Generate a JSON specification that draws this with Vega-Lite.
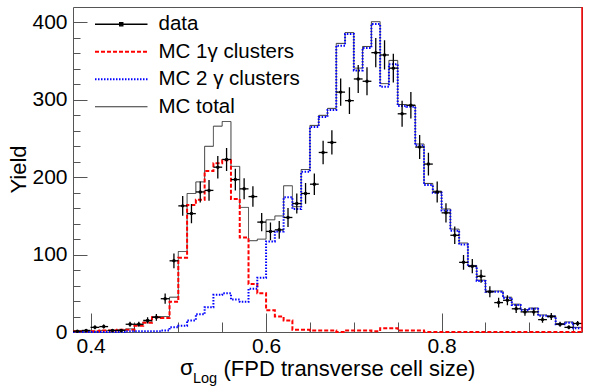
{
  "$schema": "https://vega.github.io/schema/vega-lite/v6.json",
  "width": 509,
  "height": 325,
  "autosize": {"type": "none"},
  "padding": {"left": 73, "top": 7, "right": 18, "bottom": 59},
  "background": "white",
  "config": {
    "view": {"stroke": "#555555", "strokeWidth": 1},
    "axis": {"domain": false, "grid": false, "tickColor": "#555555", "tickWidth": 1, "labelFont": "Liberation Sans", "titleFont": "Liberation Sans", "labelColor": "black", "titleColor": "black", "titleFontWeight": "normal"}
  },
  "datasets": {
    "hist": [
      {"x":0.38,"t":1,"r":1,"b":0},{"x":0.39,"t":1,"r":1,"b":0},{"x":0.40,"t":1,"r":1,"b":0},{"x":0.41,"t":2,"r":2,"b":0},
      {"x":0.42,"t":2,"r":2,"b":0},{"x":0.43,"t":3,"r":3,"b":0},{"x":0.44,"t":4,"r":3,"b":1},{"x":0.45,"t":9,"r":8,"b":1},
      {"x":0.46,"t":13,"r":12,"b":1},{"x":0.47,"t":20,"r":19,"b":1},{"x":0.48,"t":20,"r":18,"b":2},{"x":0.49,"t":45,"r":39,"b":6},
      {"x":0.50,"t":104,"r":96,"b":8},{"x":0.51,"t":179,"r":164,"b":15},{"x":0.52,"t":194,"r":171,"b":23},{"x":0.53,"t":240,"r":208,"b":32},
      {"x":0.54,"t":266,"r":218,"b":48},{"x":0.55,"t":272,"r":222,"b":50},{"x":0.56,"t":214,"r":172,"b":42},{"x":0.57,"t":161,"r":122,"b":39},
      {"x":0.58,"t":118,"r":62,"b":56},{"x":0.59,"t":120,"r":50,"b":70},{"x":0.60,"t":145,"r":28,"b":117},{"x":0.61,"t":150,"r":20,"b":130},
      {"x":0.62,"t":189,"r":15,"b":174},{"x":0.63,"t":162,"r":3,"b":159},{"x":0.64,"t":210,"r":3,"b":207},{"x":0.65,"t":267,"r":2,"b":265},
      {"x":0.66,"t":280,"r":2,"b":278},{"x":0.67,"t":289,"r":2,"b":287},{"x":0.68,"t":373,"r":0,"b":370},{"x":0.69,"t":387,"r":2,"b":385},
      {"x":0.70,"t":341,"r":2,"b":338},{"x":0.71,"t":369,"r":2,"b":367},{"x":0.72,"t":401,"r":1,"b":398},{"x":0.73,"t":321,"r":5,"b":317},
      {"x":0.74,"t":351,"r":5,"b":346},{"x":0.75,"t":294,"r":2,"b":292},{"x":0.76,"t":293,"r":2,"b":291},{"x":0.77,"t":243,"r":2,"b":241},
      {"x":0.78,"t":192,"r":0,"b":190},{"x":0.79,"t":182,"r":0,"b":180},{"x":0.80,"t":159,"r":0,"b":157},{"x":0.81,"t":133,"r":0,"b":131},
      {"x":0.82,"t":115,"r":0,"b":113},{"x":0.83,"t":86,"r":0,"b":85},{"x":0.84,"t":67,"r":0,"b":66},{"x":0.85,"t":53,"r":0,"b":52},
      {"x":0.86,"t":53,"r":0,"b":52},{"x":0.87,"t":45,"r":0,"b":44},{"x":0.88,"t":36,"r":0,"b":35},{"x":0.89,"t":29,"r":0,"b":28},
      {"x":0.90,"t":31,"r":0,"b":30},{"x":0.91,"t":22,"r":0,"b":21},{"x":0.92,"t":21,"r":0,"b":20},{"x":0.93,"t":11,"r":0,"b":10},
      {"x":0.94,"t":13,"r":0,"b":12},{"x":0.95,"t":6,"r":0,"b":5},{"x":0.96,"t":6,"r":0,"b":5}
    ],
    "pts": [
      {"c":0.385,"e1":0.38,"e2":0.39,"n":1,"lo":0,"hi":2},
      {"c":0.395,"e1":0.39,"e2":0.40,"n":2,"lo":0.6,"hi":3.4},
      {"c":0.405,"e1":0.40,"e2":0.41,"n":6,"lo":3.6,"hi":8.4},
      {"c":0.415,"e1":0.41,"e2":0.42,"n":7,"lo":4.4,"hi":9.6},
      {"c":0.425,"e1":0.42,"e2":0.43,"n":2,"lo":0.6,"hi":3.4},
      {"c":0.435,"e1":0.43,"e2":0.44,"n":2,"lo":0.6,"hi":3.4},
      {"c":0.445,"e1":0.44,"e2":0.45,"n":10,"lo":6.8,"hi":13.2},
      {"c":0.455,"e1":0.45,"e2":0.46,"n":10,"lo":6.8,"hi":13.2},
      {"c":0.465,"e1":0.46,"e2":0.47,"n":15,"lo":11.1,"hi":18.9},
      {"c":0.475,"e1":0.47,"e2":0.48,"n":19,"lo":14.6,"hi":23.4},
      {"c":0.485,"e1":0.48,"e2":0.49,"n":43,"lo":36.4,"hi":49.6},
      {"c":0.495,"e1":0.49,"e2":0.50,"n":92,"lo":82.4,"hi":101.6},
      {"c":0.505,"e1":0.50,"e2":0.51,"n":163,"lo":150.2,"hi":175.8},
      {"c":0.515,"e1":0.51,"e2":0.52,"n":153,"lo":140.6,"hi":165.4},
      {"c":0.525,"e1":0.52,"e2":0.53,"n":181,"lo":167.5,"hi":194.5},
      {"c":0.535,"e1":0.53,"e2":0.54,"n":183,"lo":169.5,"hi":196.5},
      {"c":0.545,"e1":0.54,"e2":0.55,"n":213,"lo":198.4,"hi":227.6},
      {"c":0.555,"e1":0.55,"e2":0.56,"n":223,"lo":208.1,"hi":237.9},
      {"c":0.565,"e1":0.56,"e2":0.57,"n":197,"lo":183,"hi":211},
      {"c":0.575,"e1":0.57,"e2":0.58,"n":185,"lo":171.4,"hi":198.6},
      {"c":0.585,"e1":0.58,"e2":0.59,"n":175,"lo":161.8,"hi":188.2},
      {"c":0.595,"e1":0.59,"e2":0.60,"n":142,"lo":130.1,"hi":153.9},
      {"c":0.605,"e1":0.60,"e2":0.61,"n":130,"lo":118.6,"hi":141.4},
      {"c":0.615,"e1":0.61,"e2":0.62,"n":132,"lo":120.5,"hi":143.5},
      {"c":0.625,"e1":0.62,"e2":0.63,"n":148,"lo":135.8,"hi":160.2},
      {"c":0.635,"e1":0.63,"e2":0.64,"n":166,"lo":153.1,"hi":178.9},
      {"c":0.645,"e1":0.64,"e2":0.65,"n":179,"lo":165.6,"hi":192.4},
      {"c":0.655,"e1":0.65,"e2":0.66,"n":191,"lo":177.2,"hi":204.8},
      {"c":0.665,"e1":0.66,"e2":0.67,"n":232,"lo":216.8,"hi":247.2},
      {"c":0.675,"e1":0.67,"e2":0.68,"n":245,"lo":229.3,"hi":260.7},
      {"c":0.685,"e1":0.68,"e2":0.69,"n":310,"lo":292.4,"hi":327.6},
      {"c":0.695,"e1":0.69,"e2":0.70,"n":299,"lo":281.7,"hi":316.3},
      {"c":0.705,"e1":0.70,"e2":0.71,"n":327,"lo":308.9,"hi":345.1},
      {"c":0.715,"e1":0.71,"e2":0.72,"n":324,"lo":306,"hi":342},
      {"c":0.725,"e1":0.72,"e2":0.73,"n":361,"lo":342,"hi":380},
      {"c":0.735,"e1":0.73,"e2":0.74,"n":358,"lo":339.1,"hi":376.9},
      {"c":0.745,"e1":0.74,"e2":0.75,"n":341,"lo":322.5,"hi":359.5},
      {"c":0.755,"e1":0.75,"e2":0.76,"n":282,"lo":265.2,"hi":298.8},
      {"c":0.765,"e1":0.76,"e2":0.77,"n":293,"lo":275.9,"hi":310.1},
      {"c":0.775,"e1":0.77,"e2":0.78,"n":239,"lo":223.5,"hi":254.5},
      {"c":0.785,"e1":0.78,"e2":0.79,"n":217,"lo":202.3,"hi":231.7},
      {"c":0.795,"e1":0.79,"e2":0.80,"n":181,"lo":167.5,"hi":194.5},
      {"c":0.805,"e1":0.80,"e2":0.81,"n":154,"lo":141.6,"hi":166.4},
      {"c":0.815,"e1":0.81,"e2":0.82,"n":125,"lo":113.8,"hi":136.2},
      {"c":0.825,"e1":0.82,"e2":0.83,"n":90,"lo":80.5,"hi":99.5},
      {"c":0.835,"e1":0.83,"e2":0.84,"n":85,"lo":75.8,"hi":94.2},
      {"c":0.845,"e1":0.84,"e2":0.85,"n":72,"lo":63.5,"hi":80.5},
      {"c":0.855,"e1":0.85,"e2":0.86,"n":52,"lo":44.8,"hi":59.2},
      {"c":0.865,"e1":0.86,"e2":0.87,"n":38,"lo":31.8,"hi":44.2},
      {"c":0.875,"e1":0.87,"e2":0.88,"n":41,"lo":34.6,"hi":47.4},
      {"c":0.885,"e1":0.88,"e2":0.89,"n":30,"lo":24.5,"hi":35.5},
      {"c":0.895,"e1":0.89,"e2":0.90,"n":26,"lo":20.9,"hi":31.1},
      {"c":0.905,"e1":0.90,"e2":0.91,"n":26,"lo":20.9,"hi":31.1},
      {"c":0.915,"e1":0.91,"e2":0.92,"n":16,"lo":12,"hi":20},
      {"c":0.925,"e1":0.92,"e2":0.93,"n":20,"lo":15.5,"hi":24.5},
      {"c":0.935,"e1":0.93,"e2":0.94,"n":10,"lo":6.8,"hi":13.2},
      {"c":0.945,"e1":0.94,"e2":0.95,"n":6,"lo":3.6,"hi":8.4},
      {"c":0.955,"e1":0.95,"e2":0.96,"n":11,"lo":7.7,"hi":14.3}
    ]
  },
  "resolve": {"axis": {"x": "independent", "y": "independent"}},
  "layer": [
    {
      "data": {"name": "hist"},
      "mark": {"type": "line", "interpolate": "step-after", "strokeWidth": 1},
      "encoding": {
        "x": {"field": "x", "type": "quantitative", "scale": {"domain": [0.38, 0.96], "nice": false, "zero": false},
              "axis": {"orient": "bottom", "values": [0.4, 0.6, 0.8], "format": ".1f", "ticks": false, "labelFontSize": 21, "labelBaseline": "alphabetic", "labelPadding": 20,
                       "title": "(FPD transverse cell size)", "titleFontSize": 22, "titleBaseline": "alphabetic", "titleAlign": "left", "titleAnchor": "start", "titleX": 150, "titleY": 43}},
        "y": {"field": "t", "type": "quantitative", "scale": {"domain": [0, 420], "nice": false, "zero": true},
              "axis": {"orient": "left", "values": [0, 100, 200, 300, 400], "ticks": false, "labelFontSize": 21, "labelPadding": 6,
                       "title": "Yield", "titleFontSize": 22, "titleBaseline": "alphabetic", "titleAngle": -90, "titleX": -48, "titleY": 162}},
        "color": {"datum": "MC total", "type": "nominal",
                  "scale": {"domain": ["data", "MC 1γ clusters", "MC 2 γ clusters", "MC total"], "range": ["#000000", "#ff0000", "#0000ff", "#333333"]},
                  "legend": {"title": null, "orient": "none", "legendX": 38, "legendY": 7, "padding": 0, "symbolSize": 441, "labelFontSize": 20.5, "labelFont": "Liberation Sans", "labelColor": "black", "labelOffset": 27, "rowPadding": 6.5, "labelLimit": 300,
                             "encode": {"symbols": {"update": {
                               "shape": {"signal": "datum.value === 'data' ? 'M-2.5,0H2.5M-0.15,-0.15H0.15V0.15H-0.15Z' : 'M-2.5,0H2.5'"},
                               "fill": {"signal": "datum.value === 'data' ? 'black' : 'transparent'"},
                               "strokeWidth": {"signal": "datum.value === 'MC total' ? 1 : datum.value === 'data' ? 1.3 : 2"}}}}}},
        "strokeDash": {"datum": "MC total", "type": "nominal",
                       "scale": {"domain": ["data", "MC 1γ clusters", "MC 2 γ clusters", "MC total"], "range": [[1, 0], [4, 2], [1.5, 1.5], [1, 0]]}}
      }
    },
    {
      "data": {"name": "hist"},
      "mark": {"type": "line", "interpolate": "step-after", "strokeWidth": 2},
      "encoding": {
        "x": {"field": "x", "type": "quantitative", "scale": {"domain": [0.38, 0.96], "nice": false, "zero": false},
              "axis": {"orient": "bottom", "values": [0.4, 0.6, 0.8], "labels": false, "tickSize": -19, "title": null}},
        "y": {"field": "r", "type": "quantitative", "scale": {"domain": [0, 420], "nice": false, "zero": true},
              "axis": {"orient": "left", "values": [0, 100, 200, 300, 400], "labels": false, "tickSize": -14, "title": null}},
        "color": {"datum": "MC 1γ clusters", "type": "nominal"},
        "strokeDash": {"datum": "MC 1γ clusters", "type": "nominal"}
      }
    },
    {
      "data": {"name": "hist"},
      "mark": {"type": "line", "interpolate": "step-after", "strokeWidth": 2},
      "encoding": {
        "x": {"field": "x", "type": "quantitative", "scale": {"domain": [0.38, 0.96], "nice": false, "zero": false},
              "axis": {"orient": "bottom", "values": [0.4, 0.45, 0.5, 0.55, 0.6, 0.65, 0.7, 0.75, 0.8, 0.85, 0.9, 0.95], "labels": false, "tickSize": -10, "title": null}},
        "y": {"field": "b", "type": "quantitative", "scale": {"domain": [0, 420], "nice": false, "zero": true},
              "axis": {"orient": "left", "values": [0, 20, 40, 60, 80, 100, 120, 140, 160, 180, 200, 220, 240, 260, 280, 300, 320, 340, 360, 380, 400], "labels": false, "tickSize": -7, "title": null}},
        "color": {"datum": "MC 2 γ clusters", "type": "nominal"},
        "strokeDash": {"datum": "MC 2 γ clusters", "type": "nominal"}
      }
    },
    {
      "data": {"name": "pts"},
      "mark": {"type": "rule", "strokeWidth": 1.3},
      "encoding": {
        "x": {"field": "c", "type": "quantitative", "scale": {"domain": [0.38, 0.96], "nice": false, "zero": false}, "axis": null},
        "y": {"field": "lo", "type": "quantitative", "scale": {"domain": [0, 420], "nice": false, "zero": true}, "axis": null},
        "y2": {"field": "hi"},
        "color": {"datum": "data", "type": "nominal"},
        "strokeDash": {"datum": "data", "type": "nominal"}
      }
    },
    {
      "data": {"name": "pts"},
      "mark": {"type": "rule", "color": "black", "strokeWidth": 1.3},
      "encoding": {
        "x": {"field": "e1", "type": "quantitative", "scale": {"domain": [0.38, 0.96], "nice": false, "zero": false}, "axis": null},
        "x2": {"field": "e2"},
        "y": {"field": "n", "type": "quantitative", "scale": {"domain": [0, 420], "nice": false, "zero": true}, "axis": null}
      }
    },
    {
      "data": {"name": "pts"},
      "mark": {"type": "point", "filled": true, "color": "black", "size": 12, "opacity": 1},
      "encoding": {
        "x": {"field": "c", "type": "quantitative", "scale": {"domain": [0.38, 0.96], "nice": false, "zero": false}, "axis": null},
        "y": {"field": "n", "type": "quantitative", "scale": {"domain": [0, 420], "nice": false, "zero": true}, "axis": null}
      }
    },
    {
      "data": {"values": [{}]},
      "mark": {"type": "rule", "color": "#ff0000", "strokeWidth": 1.5},
      "encoding": {
        "x": {"datum": 0.96, "type": "quantitative", "scale": {"domain": [0.38, 0.96], "nice": false, "zero": false}, "axis": null},
        "y": {"datum": 0, "type": "quantitative", "scale": {"domain": [0, 420], "nice": false, "zero": true}, "axis": null},
        "y2": {"datum": 420}
      }
    },
    {
      "data": {"values": [{}]},
      "mark": {"type": "text", "text": "σ", "font": "Liberation Sans", "fontSize": 22, "align": "left", "baseline": "alphabetic", "color": "black"},
      "encoding": {
        "x": {"datum": 0.5019, "type": "quantitative", "scale": {"domain": [0.38, 0.96], "nice": false, "zero": false}, "axis": null},
        "y": {"datum": -55.6, "type": "quantitative", "scale": {"domain": [0, 420], "nice": false, "zero": true}, "axis": null}
      }
    },
    {
      "data": {"values": [{}]},
      "mark": {"type": "text", "text": "Log", "font": "Liberation Sans", "fontSize": 14.5, "align": "left", "baseline": "alphabetic", "color": "black"},
      "encoding": {
        "x": {"datum": 0.5167, "type": "quantitative", "scale": {"domain": [0.38, 0.96], "nice": false, "zero": false}, "axis": null},
        "y": {"datum": -65.9, "type": "quantitative", "scale": {"domain": [0, 420], "nice": false, "zero": true}, "axis": null}
      }
    }
  ]
}
